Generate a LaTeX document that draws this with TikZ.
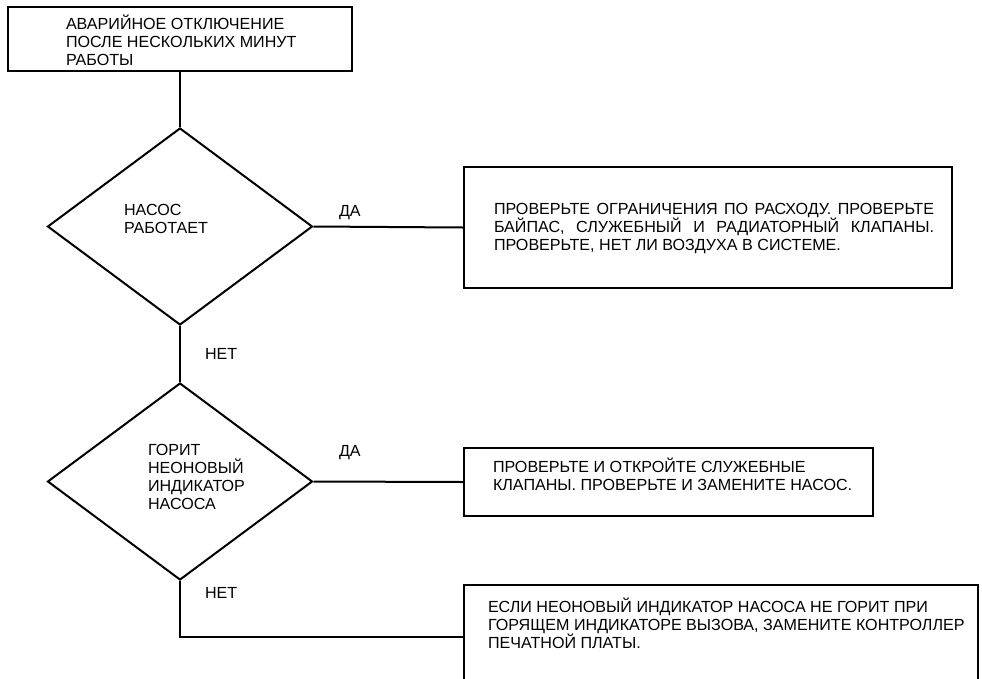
\documentclass[tikz,border=0pt]{standalone}
\usepackage{fontspec}
\setmainfont{Liberation Sans}
\usetikzlibrary{shapes.geometric}
\begin{document}
\begin{tikzpicture}[x=1pt,y=-1pt,
  line width=2pt,
  box/.style={draw, rectangle, inner sep=0pt},
  decision/.style={draw, diamond, inner sep=0pt, minimum width=265pt, minimum height=197pt},
  txt/.style={anchor=base west, inner sep=0pt, font=\fontsize{16.1}{18.3}\selectfont},
  link/.style={line width=2pt}]
\useasboundingbox (0,0) rectangle (982,678);
\clip (0,0) rectangle (982,678);

% boxes and decisions
\node[box, minimum width=344pt, minimum height=64pt] (start) at (180,39) {};
\node[decision] (d1) at (180,226.5) {};
\node[box, minimum width=488pt, minimum height=121pt] (b2) at (708,227.5) {};
\node[decision] (d2) at (180,481.5) {};
\node[box, minimum width=409pt, minimum height=68pt] (b3) at (668.5,482) {};
\node[box, minimum width=514pt, minimum height=104pt] (b4) at (721,637) {};

% texts
\node[txt] (t0) at (65,29) {\parbox[t]{290pt}{\raggedright АВАРИЙНОЕ ОТКЛЮЧЕНИЕ\\ПОСЛЕ НЕСКОЛЬКИХ МИНУТ\\РАБОТЫ}};
\node[txt] (t1) at (123,215) {\parbox[t]{120pt}{\raggedright НАСОС\\РАБОТАЕТ}};
\node[txt] (t2) at (147,455) {\parbox[t]{120pt}{\raggedright ГОРИТ\\НЕОНОВЫЙ\\ИНДИКАТОР\\НАСОСА}};
\node[txt] (t3) at (493,214) {\parbox[t]{440pt}{\hyphenpenalty=10000 \tolerance=10000
  ПРОВЕРЬТЕ ОГРАНИЧЕНИЯ ПО РАСХОДУ. ПРОВЕРЬТЕ\linebreak
  БАЙПАС, СЛУЖЕБНЫЙ И РАДИАТОРНЫЙ КЛАПАНЫ.\linebreak
  ПРОВЕРЬТЕ, НЕТ ЛИ ВОЗДУХА В СИСТЕМЕ.}};
\node[txt] (t4) at (492,472) {\parbox[t]{380pt}{\raggedright ПРОВЕРЬТЕ И ОТКРОЙТЕ СЛУЖЕБНЫЕ\\КЛАПАНЫ. ПРОВЕРЬТЕ И ЗАМЕНИТЕ НАСОС.}};
\node[txt] (t5) at (487,612) {\parbox[t]{485pt}{\raggedright ЕСЛИ НЕОНОВЫЙ ИНДИКАТОР НАСОСА НЕ ГОРИТ ПРИ\\ГОРЯЩЕМ ИНДИКАТОРЕ ВЫЗОВА, ЗАМЕНИТЕ КОНТРОЛЛЕР\\ПЕЧАТНОЙ ПЛАТЫ.}};

% branch labels
\node[txt] (yes1) at (338,216) {ДА};
\node[txt] (no1) at (204,359) {НЕТ};
\node[txt] (yes2) at (338,456) {ДА};
\node[txt] (no2) at (204,598) {НЕТ};

% connectors
\draw[link] (start.south) -- (d1.north);
\draw[link] (d1.east) -- (b2.west);
\draw[link] (d1.south) -- (d2.north);
\draw[link] (d2.east) -- (b3.west);
\draw[link] (d2.south) |- (b4.west);
\end{tikzpicture}
\end{document}
